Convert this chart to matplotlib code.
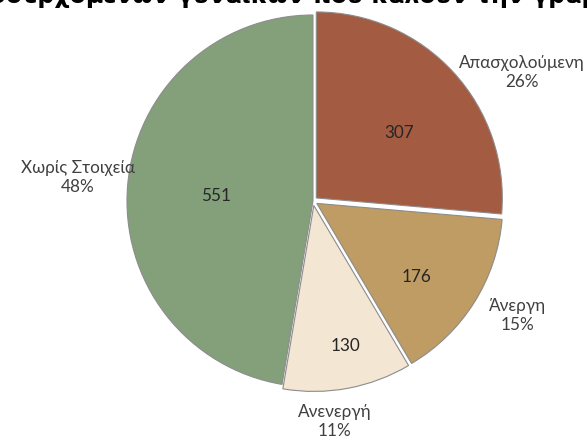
import numpy as np
import matplotlib.pyplot as plt

categories = ['Απασχολούμενη', 'Άνεργη', 'Ανενεργή', 'Χωρίς Στοιχεία']
counts = [307, 176, 130, 551]
percent_labels = ['26%', '15%', '11%', '48%']

colors = ['#A35B42', '#BE9C63', '#F3E6D2', '#83A07B']
# explode is in data units here (pixels), since the axes run in pixels
explode = [4.5, 4.5, 4.5, 0]

plt.rcParams['font.family'] = ['Lato', 'DejaVu Sans']

fig = plt.figure(figsize=(5.87, 4.43), dpi=100)
ax = fig.add_axes([0, 0, 1, 1])

cx, cy, r = 313, 443 - 201, 186
wedges, _ = ax.pie(counts, colors=colors, explode=explode, startangle=90,
                   counterclock=False, center=(cx, cy), radius=r,
                   wedgeprops=dict(edgecolor='#8C8C8C', linewidth=0.8))

# value labels inside, category labels outside
inner_dist = [0.59, 0.69, 0.80, 0.52]
inner_shift = [-4, -4, 2, 2]
outer_dist = [1.32, 1.26, 1.19, 1.27]
outer_shift = [-11, 3, -5, -1]
for i, w in enumerate(wedges):
    mid = np.deg2rad((w.theta1 + w.theta2) / 2 + inner_shift[i])
    ax.text(cx + r * inner_dist[i] * np.cos(mid), cy + r * inner_dist[i] * np.sin(mid),
            str(counts[i]), ha='center', va='center', fontsize=12.3, color='#262626')
    mid = np.deg2rad((w.theta1 + w.theta2) / 2 + outer_shift[i])
    ax.text(cx + r * outer_dist[i] * np.cos(mid), cy + r * outer_dist[i] * np.sin(mid),
            categories[i] + '\n' + percent_labels[i], ha='center', va='center',
            fontsize=12.3, color='#404040', linespacing=1.25)

# title, cut off at the top of the picture as in the original
fig.text(0.5, 1 - 3 / 443, 'προσερχόμενων γυναικών που καλούν την γραμμή', ha='center',
         va='baseline', fontsize=17, fontweight='bold', color='black',
         family='DejaVu Sans')

ax.set_xlim(0, 587)
ax.set_ylim(0, 443)
ax.set_aspect('equal')
ax.axis('off')

fig.savefig('out.png', dpi=100, facecolor='white')
